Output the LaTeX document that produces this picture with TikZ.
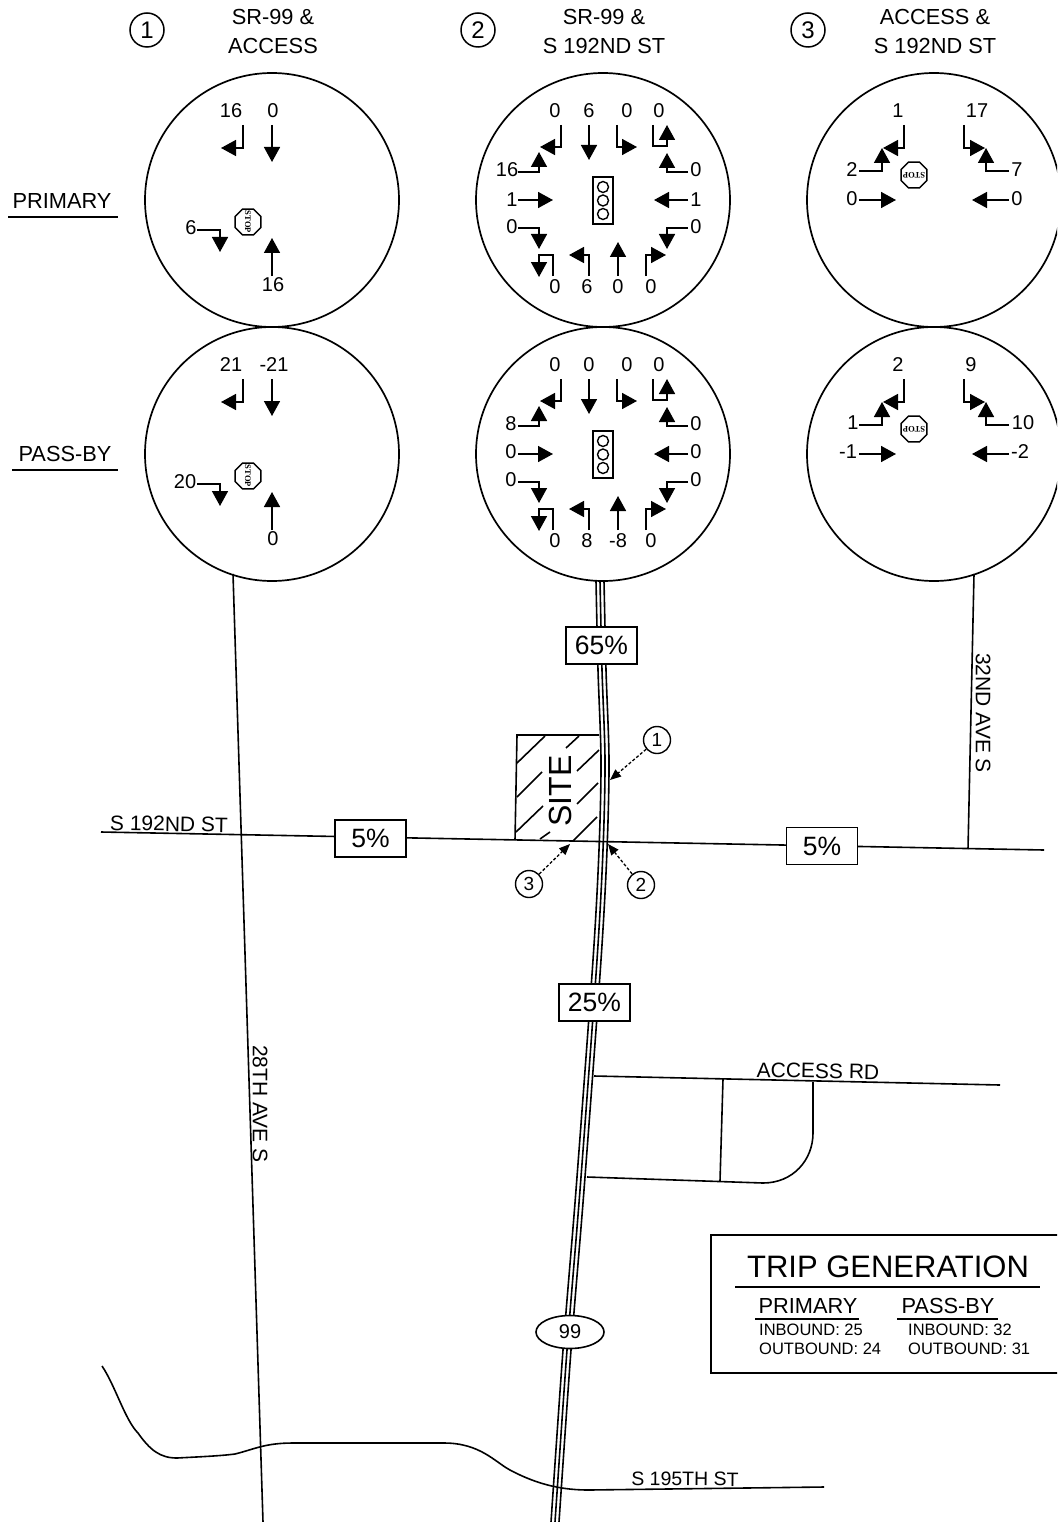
\documentclass[tikz,border=0pt]{standalone}
\usepackage{fontspec}
\setmainfont{Liberation Sans}
\newfontfamily\stopfont{Liberation Serif}
\usepackage{tikz}
\usetikzlibrary{arrows.meta}
\usetikzlibrary{shapes.geometric}
\tikzstyle{road}=[line width=1.6pt]
\tikzstyle{move}=[line width=1.6pt,-{Triangle[length=15pt,width=16pt]}]
\tikzstyle{vol}=[font=\fontsize{20}{24}\selectfont, inner sep=0pt]
\tikzstyle{head}=[font=\fontsize{21.8}{25}\selectfont, inner sep=0pt]
\tikzstyle{street}=[font=\fontsize{21}{25}\selectfont, inner sep=0pt]
\tikzstyle{pct}=[draw,fill=white,line width=1.6pt,font=\fontsize{26.5}{30}\selectfont, minimum width=71pt, minimum height=37pt, inner sep=0pt]
\tikzstyle{num}=[circle,draw,line width=1.5pt,font=\fontsize{24}{28}\selectfont, minimum size=34pt, inner sep=0pt]
\tikzstyle{callout}=[circle,draw,line width=1.4pt,font=\fontsize{19}{22}\selectfont, minimum size=27pt, inner sep=0pt]
\tikzstyle{leader}=[line width=1.3pt,dash pattern=on 3pt off 2pt,-{Triangle[length=11pt,width=9pt]}]
\tikzstyle{stopsign}=[regular polygon,regular polygon sides=8,draw,line width=1.4pt,minimum size=28pt,inner sep=-8pt,font=\stopfont\bfseries\fontsize{8.5}{9}\selectfont]
\tikzstyle{small}=[font=\fontsize{16.5}{20}\selectfont, inner sep=0pt, anchor=west]
\begin{document}
\begin{tikzpicture}[x=1pt,y=-1pt]
    \clip (0,0) rectangle (1057,1522);

    %headers
    \foreach \n/\x in {1/147,2/478,3/808}{\node [num] (num\n) at (\x,30) {\n};}
    \foreach \x/\y/\t in {273/17/SR-99 \&,273/46/ACCESS,604/17/SR-99 \&,604/46/S 192ND ST,935/17/ACCESS \&,935/46/S 192ND ST}{
    \node [head] (head-\x-\y) at (\x,\y) {\t};
    }
    \node [head] (primary) at (62,201) {PRIMARY};
    \node [head] (passby) at (65,454) {PASS-BY};
    \draw [road] (8,217) -- (118,217);
    \draw [road] (12,470) -- (118,470);

    %roads
    \draw [road] (233,574) -- (263,1522);
    \draw [road] (974,574) -- (968,849);
    \draw [road] (101,832) -- (1044,850);
    \foreach \d in {-4,0,4}{
    \draw [road,shift={(\d,0)}] plot [smooth] coordinates {(600,581) (602,670) (605,760) (603,850) (597,960) (580,1190) (567,1350) (555,1522)};
    }
    \draw [road] (594,1076) -- (1000,1085);
    \draw [road] (723,1079) -- (720,1181);
    \draw [road] (587,1177) -- (763,1183) .. controls (793,1183) and (813,1160) .. (813,1133) -- (813,1082);
    \draw [road] (102,1366) .. controls (115,1385) and (125,1420) .. (138,1433) .. controls (150,1450) and (160,1458) .. (177,1458) .. controls (195,1457) and (220,1456) .. (235,1454) .. controls (255,1449) and (265,1443) .. (293,1443) -- (444,1443) .. controls (480,1443) and (495,1462) .. (510,1470) .. controls (540,1486) and (565,1490) .. (589,1490) -- (824,1487);

    %site
    \draw [road] (515,840) -- (517,735) -- (599,735);
    \foreach \ax/\ay/\bx/\by in {517/763/545/736,566/748/579/736,517/797/542/772,577/771/599/750,516/832/543/806,577/804/598/783,540/839/550/832,573/841/597/817}{
    \draw [road] (\ax,\ay) -- (\bx,\by);
    }
    \node [rotate=90,font=\fontsize{32}{36}\selectfont,inner sep=0pt] (site) at (560,791) {SITE};

    %percentages
    \node [pct] (north) at (601.5,645.5) {65\%};
    \node [pct] (south) at (594.5,1002.5) {25\%};
    \node [pct] (west) at (370.5,838.5) {5\%};
    \node [pct] (east) at (822,846) {5\%};
    \node [ellipse,draw,fill=white,line width=1.6pt,minimum width=68pt,minimum height=33pt,inner sep=0pt,font=\fontsize{20}{24}\selectfont] (sr99) at (570,1332) {99};

    %street names
    \node [street,rotate=-1] (st192) at (169,824) {S 192ND ST};
    \node [street,rotate=-90] (ave28) at (260,1104) {28TH AVE S};
    \node [street,rotate=-90] (ave32) at (983,713) {32ND AVE S};
    \node [street,rotate=-1] (access) at (818,1071) {ACCESS RD};
    \node [inner sep=0pt,rotate=-0.5,font=\fontsize{19.5}{23}\selectfont] (st195) at (685,1479) {S 195TH ST};

    %callouts
    \node [callout] (callA) at (657,740) {1};
    \node [callout] (callB) at (641,885) {2};
    \node [callout] (callC) at (529,884) {3};
    \coordinate (tipA) at (610,780);
    \coordinate (tipB) at (608,844);
    \coordinate (tipC) at (570,844);
    \draw [leader] (callA) -- (tipA);
    \draw [leader] (callB) -- (tipB);
    \draw [leader] (callC) -- (tipC);

    %circles
    \foreach \x in {272,603,934}{\foreach \y in {200,454}{
    \draw [line width=1.7pt] (\x,\y) circle (127);
    }}

    %arrows, same place in the upper and lower row
    \foreach \d in {0,254}{
    \begin{scope}[shift={(0,\d)}]
    % 1
    \foreach \ax/\ay/\bx/\by/\cx/\cy in {243/125/243/148/221/148,197/230/220/230/220/252}{
    \draw [move] (\ax,\ay) -- (\bx,\by) -- (\cx,\cy);
    }
    \draw [move] (272,125) -- (272,162);
    \draw [move] (272,276) -- (272,238);
    % 2
    \foreach \ax/\ay/\bx/\by/\cx/\cy in {561/125/561/147/540/147,617/125/617/147/637/147,688/172/667/172/667/153,688/228/667/228/667/249,646/276/646/255/666/255,589/276/589/255/569/255,518/228/539/228/539/249,518/172/539/172/539/152}{
    \draw [move] (\ax,\ay) -- (\bx,\by) -- (\cx,\cy);
    }
    \draw [move] (653,125) -- (653,146) -- (667,146) -- (667,125);
    \draw [move] (553,276) -- (553,255) -- (539,255) -- (539,277);
    \foreach \ax/\ay/\bx/\by in {589/125/589/160,688/200/654/200,618/276/618/242,518/200/553/200}{
    \draw [move] (\ax,\ay) -- (\bx,\by);
    }
    % 3
    \foreach \ax/\ay/\bx/\by/\cx/\cy in {904/125/904/148/883/148,964/125/964/148/985/148,859/171/882/171/882/148,1009/171/986/171/986/148}{
    \draw [move] (\ax,\ay) -- (\bx,\by) -- (\cx,\cy);
    }
    \draw [move] (859,200) -- (896,200);
    \draw [move] (1009,200) -- (972,200);
    % signal
    \draw [line width=1.4pt] (593,177) rectangle (613,224);
    \foreach \y in {187,200.5,214}{\draw [line width=1.4pt] (603,\y) circle (5.5);}
    \end{scope}
    }

    %stop signs
    \node [stopsign,rotate=-90] (stopA) at (248,222) {STOP};
    \node [stopsign,rotate=-90] (stopB) at (248,476) {STOP};
    \node [stopsign,rotate=180] (stopC) at (914,175) {STOP};
    \node [stopsign,rotate=180] (stopD) at (914,429) {STOP};

    %volumes
    \foreach \x/\y/\t in {231/111/16,273/111/0,191/228/6,273/285/16,
    231/365/21,274/365/-21,185/482/20,273/539/0,
    555/111/0,589/111/6,627/111/0,659/111/0,507/170/16,512/200/1,512/227/0,696/170/0,696/200/1,696/227/0,555/287/0,587/287/6,618/287/0,651/287/0,
    555/365/0,589/365/0,627/365/0,659/365/0,511/424/8,511/452/0,511/480/0,696/424/0,696/452/0,696/480/0,555/541/0,587/541/8,618/541/-8,651/541/0,
    898/111/1,977/111/17,852/170/2,1017/170/7,852/199/0,1017/199/0,
    898/365/2,971/365/9,853/423/1,1023/423/10,848/452/-1,1020/452/-2}{
    \node [vol] (vol-\x-\y) at (\x,\y) {\t};
    }

    %trip generation
    \draw [line width=1.7pt] (711,1235) rectangle (1070,1373);
    \node [inner sep=0pt,font=\fontsize{31}{35}\selectfont] (title) at (888,1267) {TRIP GENERATION};
    \draw [road] (735,1287) -- (1040,1287);
    \node [head] (tripA) at (808,1306) {PRIMARY};
    \node [head] (tripB) at (948,1306) {PASS-BY};
    \draw [road] (755,1319) -- (859,1319);
    \draw [road] (897,1319) -- (998,1319);
    \node [small] (inA) at (759,1330) {INBOUND: 25};
    \node [small] (outA) at (759,1349) {OUTBOUND: 24};
    \node [small] (inB) at (908,1330) {INBOUND: 32};
    \node [small] (outB) at (908,1349) {OUTBOUND: 31};

\end{tikzpicture}
\end{document}
